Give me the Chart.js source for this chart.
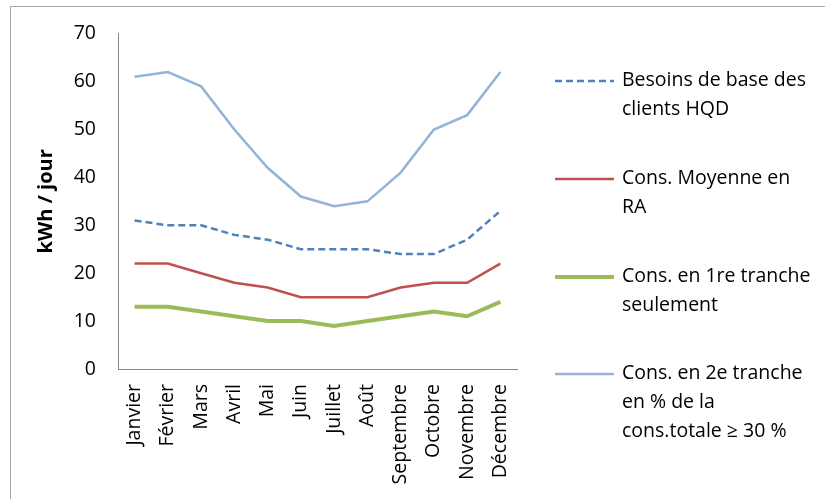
<!DOCTYPE html>
<html>
<head>
<meta charset="utf-8">
<script src="https://cdn.jsdelivr.net/npm/chart.js@4/dist/chart.umd.min.js"></script>
<style>
    html, body { margin: 0; padding: 0; background: #fff; overflow: hidden; }
    #wrap { position: relative; width: 825px; height: 499px; }
    #frame { position: absolute; left: 10px; top: 6px; width: 900px; height: 600px; border: 1px solid #a6a6a6; }
    canvas { position: absolute; left: 0; top: 0; }
</style>
</head>
<body>
<div id="wrap">
    <div id="frame"></div>
    <canvas id="chart" width="825" height="499"></canvas>
</div>
<script>
const months = ["Janvier", "Février", "Mars", "Avril", "Mai", "Juin", "Juillet", "Août", "Septembre", "Octobre", "Novembre", "Décembre"];
const besoinsBase = [31, 30, 30, 28, 27, 25, 25, 25, 24, 24, 27, 33];
const consMoyenne = [22, 22, 20, 18, 17, 15, 15, 15, 17, 18, 18, 22];
const consTranche1 = [13, 13, 12, 11, 10, 10, 9, 10, 11, 12, 11, 14];
const consTranche2 = [61, 62, 59, 50, 42, 36, 34, 35, 41, 50, 53, 62];
const yTicks = [0, 10, 20, 30, 40, 50, 60, 70];
const legendLabels = [
    ["Besoins de base des", "clients HQD"],
    ["Cons. Moyenne en", "RA"],
    ["Cons. en 1re tranche", "seulement"],
    ["Cons. en 2e tranche", "en % de la", "cons.totale ≥ 30 %"]
];

const FONT = "'Open Sans', sans-serif";
const AXIS_COLOR = "#868686";

// legend drawn by hand since Chart.js can't wrap legend text
const sideLegend = {
    id: "sideLegend",
    afterDraw(chart) {
        const c = chart.ctx;
        const startY = [80, 178, 276, 373];
        chart.data.datasets.forEach((ds, i) => {
            const y = startY[i];
            c.save();
            c.strokeStyle = ds.borderColor;
            c.lineWidth = ds.borderWidth;
            c.setLineDash(ds.borderDash || []);
            c.beginPath();
            c.moveTo(555, y + 1);
            c.lineTo(614, y + 1);
            c.stroke();
            c.setLineDash([]);
            c.fillStyle = "#000";
            c.font = "19.5px " + FONT;
            c.textBaseline = "middle";
            legendLabels[i].forEach((line, j) => {
                c.fillText(line, 622, y + j * 29);
            });
            c.restore();
        });
    }
};

new Chart(document.getElementById("chart"), {
    type: "line",
    data: {
        labels: months,
        datasets: [
            { label: legendLabels[0].join(" "), data: besoinsBase, borderColor: "#4F81BD", borderWidth: 2.5, borderDash: [7, 4] },
            { label: legendLabels[1].join(" "), data: consMoyenne, borderColor: "#C0504D", borderWidth: 2.5 },
            { label: legendLabels[2].join(" "), data: consTranche1, borderColor: "#9BBB59", borderWidth: 4 },
            { label: legendLabels[3].join(" "), data: consTranche2, borderColor: "#95B3D7", borderWidth: 2.5 }
        ]
    },
    options: {
        responsive: false,
        animation: false,
        events: [],
        elements: { point: { radius: 0 }, line: { tension: 0 } },
        layout: { padding: { left: 34, right: 308, top: 22, bottom: 0 } },
        plugins: { legend: { display: false }, tooltip: { enabled: false } },
        scales: {
            x: {
                offset: true,
                afterFit(scale) { scale.height = 499 - 369; },
                grid: { display: false, drawTicks: false },
                border: { color: AXIS_COLOR, width: 1 },
                ticks: { color: "#000", font: { family: FONT, size: 19.5 }, minRotation: 90, maxRotation: 90, padding: 15, autoSkip: false }
            },
            y: {
                min: 0,
                max: 70,
                afterBuildTicks(scale) { scale.ticks = yTicks.map(v => ({ value: v })); },
                afterFit(scale) { scale.width = 118 - 34; },
                grid: { display: false, drawTicks: false },
                border: { color: AXIS_COLOR, width: 1 },
                title: { display: true, text: "kWh / jour", color: "#000", font: { family: FONT, size: 20, weight: "bold" }, padding: 0 },
                ticks: { color: "#000", font: { family: FONT, size: 19.5 }, padding: 22 }
            }
        }
    },
    plugins: [sideLegend]
});
</script>
</body>
</html>
